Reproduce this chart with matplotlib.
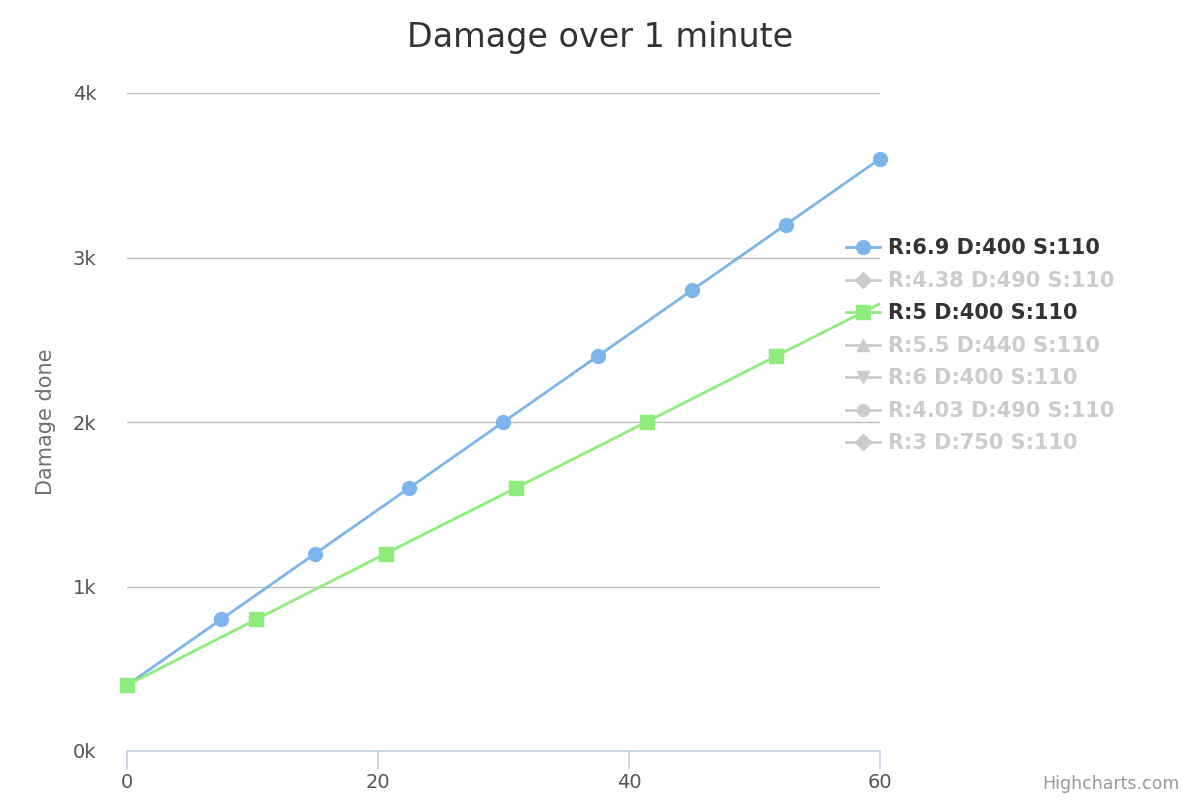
import matplotlib.pyplot as plt
import numpy as np
from matplotlib.lines import Line2D
from matplotlib.ticker import FuncFormatter

# data
blue_x = [0, 7.5, 15, 22.5, 30, 37.5, 45, 52.5, 60]
blue_y = [400, 800, 1200, 1600, 2000, 2400, 2800, 3200, 3600]
green_x = [0, 10.3, 20.6, 31.0, 41.4, 51.7, 62.1]
green_y = [400, 800, 1200, 1600, 2000, 2400, 2800]

legend_labels = ["R:6.9 D:400 S:110", "R:4.38 D:490 S:110", "R:5 D:400 S:110",
                 "R:5.5 D:440 S:110", "R:6 D:400 S:110", "R:4.03 D:490 S:110",
                 "R:3 D:750 S:110"]
legend_markers = ["o", "D", "s", "^", "v", "o", "D"]
legend_visible = [True, False, True, False, False, False, False]

BLUE = "#7cb5ec"
GREEN = "#90ed7d"
HIDDEN = "#cccccc"

fig = plt.figure(figsize=(12, 8), dpi=100)
ax = fig.add_axes([127 / 1200, 1 - 751 / 800, 753 / 1200, 658 / 800])

ax.plot(blue_x, blue_y, color=BLUE, lw=2, marker="o", ms=10, clip_on=False, zorder=3)

ax.plot(green_x, green_y, color=GREEN, lw=2, zorder=3)
gx = np.array(green_x)
gy = np.array(green_y)
inside = gx <= 60
ax.plot(gx[inside], gy[inside], ls="none", color=GREEN, marker="s", ms=9.5,
        clip_on=False, zorder=4)

ax.set_xlim(0, 60)
ax.set_ylim(0, 4000)
ax.set_xticks([0, 20, 40, 60])
ax.set_yticks([0, 1000, 2000, 3000, 4000])
ax.yaxis.set_major_formatter(FuncFormatter(lambda v, p: f"{int(v / 1000)}k"))

for s in ["top", "right", "left"]:
    ax.spines[s].set_visible(False)
ax.spines["bottom"].set_color("#c0d0e0")
ax.spines["bottom"].set_linewidth(1.2)

ax.tick_params(axis="x", direction="out", length=13, width=1.2, color="#c0d0e0",
               labelsize=14, labelcolor="#555555", pad=3)
ax.tick_params(axis="y", length=0, labelsize=14, labelcolor="#555555", pad=22)
ax.grid(axis="y", color="#c0c0c0", lw=1)
ax.set_axisbelow(True)

ax.set_ylabel("Damage done", fontsize=15, color="#707070", labelpad=12)
fig.text(0.5, 1 - 38 / 800, "Damage over 1 minute", ha="center", va="center",
         fontsize=24, color="#333333")
fig.text(1180 / 1200, 1 - 784 / 800, "Highcharts.com", ha="right", va="center",
         fontsize=12.5, color="#999999")

handles = []
for i, m in enumerate(legend_markers):
    if i == 0:
        c = BLUE
    elif i == 2:
        c = GREEN
    else:
        c = HIDDEN
    ms = 10 if legend_visible[i] else 8.5
    handles.append(Line2D([], [], color=c, lw=2, marker=m, ms=ms))

leg = fig.legend(handles, legend_labels, loc="upper left",
                 bbox_to_anchor=(838 / 1200, 1 - 230 / 800), frameon=False,
                 prop={"size": 15, "weight": "bold"}, handlelength=1.6,
                 handletextpad=0.4, labelspacing=0.6, borderaxespad=0)
for t, vis in zip(leg.get_texts(), legend_visible):
    t.set_color("#333333" if vis else HIDDEN)

fig.savefig("out.png", dpi=100)
